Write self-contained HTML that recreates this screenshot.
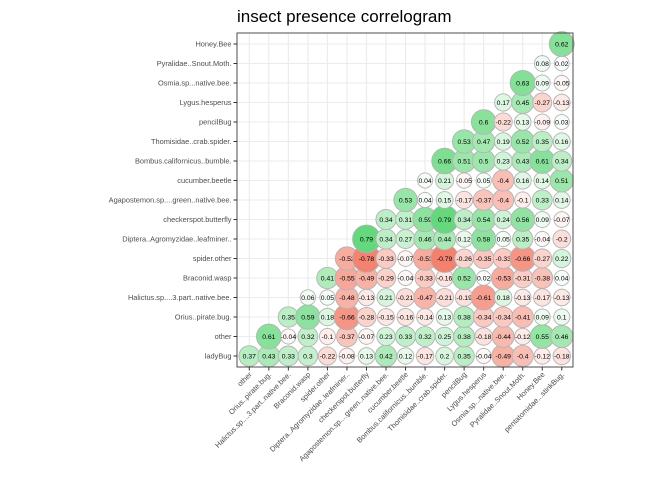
<!DOCTYPE html>
<html><head><meta charset="utf-8"><style>
body{margin:0;background:#fff;}
svg{display:block;font-family:"Liberation Sans",sans-serif;}
</style></head><body>
<svg id="chart" width="672" height="480">
<text x="237" y="22" font-size="17" fill="#000">insect presence correlogram</text>
<g id="grid"></g><g id="marks"></g><g id="axes"></g>
</svg>
<script>
const varNames = ["ladyBug","other","Orius..pirate.bug.","Halictus.sp....3.part..native.bee.","Braconid.wasp","spider.other","Diptera..Agromyzidae..leafminer..","checkerspot.butterfly","Agapostemon.sp....green..native.bee.","cucumber.beetle","Bombus.californicus..bumble.","Thomisidae..crab.spider.","pencilBug","Lygus.hesperus","Osmia.sp...native.bee.","Pyralidae..Snout.Moth.","Honey.Bee"];
const xLabels = ["other","Orius..pirate.bug.","Halictus.sp....3.part..native.bee.","Braconid.wasp","spider.other","Diptera..Agromyzidae..leafminer..","checkerspot.butterfly","Agapostemon.sp....green..native.bee.","cucumber.beetle","Bombus.californicus..bumble.","Thomisidae..crab.spider.","pencilBug","Lygus.hesperus","Osmia.sp...native.bee.","Pyralidae..Snout.Moth.","Honey.Bee","pentatomidae...stinkBug."];
const rowValues = [
[0.37,0.43,0.33,0.3,-0.22,-0.08,0.13,0.42,0.12,-0.17,0.2,0.35,-0.04,-0.49,-0.4,-0.12,-0.18],
[0.61,-0.04,0.32,-0.1,-0.37,-0.07,0.23,0.33,0.32,0.25,0.38,-0.18,-0.44,-0.12,0.55,0.46],
[0.35,0.59,0.18,-0.66,-0.28,-0.15,-0.16,-0.14,0.13,0.38,-0.34,-0.34,-0.41,0.09,0.1],
[0.06,0.05,-0.48,-0.13,0.21,-0.21,-0.47,-0.21,-0.19,-0.61,0.18,-0.13,-0.17,-0.13],
[0.41,-0.55,-0.49,-0.29,-0.04,-0.33,-0.16,0.52,0.02,-0.53,-0.31,-0.38,0.04],
[-0.52,-0.78,-0.33,-0.07,-0.53,-0.79,-0.26,-0.35,-0.33,-0.66,-0.27,0.22],
[0.79,0.34,0.27,0.46,0.44,0.12,0.58,0.05,0.35,-0.04,-0.2],
[0.34,0.31,0.59,0.79,0.34,0.54,0.24,0.56,0.09,-0.07],
[0.53,0.04,0.15,-0.17,-0.37,-0.4,-0.1,0.33,0.14],
[0.04,0.21,-0.05,0.05,-0.4,0.16,0.14,0.51],
[0.66,0.51,0.5,0.23,0.43,0.61,0.34],
[0.53,0.47,0.19,0.52,0.35,0.16],
[0.6,-0.22,0.13,-0.09,0.03],
[0.17,0.45,-0.27,-0.13],
[0.63,0.09,-0.05],
[0.08,0.02],
[0.62]
];
const NS="http://www.w3.org/2000/svg";
const L=237,R=573,T=33,B=367;
const x0=249.3,dx=19.53,y0=356,dy=19.5;
function xScale(i){return x0+i*dx;}
function yScale(j){return y0-j*dy;}
function rScale(v){return 7.2+8.5*Math.abs(v);}
function mix(a,b,t){return Math.round(a+(b-a)*t);}
function color(v){const t=Math.min(1,Math.abs(v));const c=v>=0?[60,205,90]:[240,95,72];
return `rgb(${mix(255,c[0],t)},${mix(255,c[1],t)},${mix(255,c[2],t)})`;}
function mk(tag,attrs,parent){const e=document.createElementNS(NS,tag);for(const k in attrs)e.setAttribute(k,attrs[k]);parent.appendChild(e);return e;}
const grid=document.getElementById('grid'),marks=document.getElementById('marks'),axes=document.getElementById('axes');
for(let i=0;i<xLabels.length;i++){const l=mk('line',{x1:xScale(i),x2:xScale(i),y1:T,y2:B,stroke:'#ebebeb','stroke-width':1.1},grid);

}
for(let j=0;j<varNames.length;j++){const l=mk('line',{x1:L,x2:R,y1:yScale(j),y2:yScale(j),stroke:'#ebebeb','stroke-width':1.1},grid);

}
rowValues.forEach((row,j)=>{row.forEach((v,k)=>{const i=j+k;
const g=mk('g',{},marks);


mk('circle',{cx:xScale(i),cy:yScale(j),r:rScale(v),fill:color(v),stroke:'#b3b3b3','stroke-width':0.9},g);
const t=mk('text',{x:xScale(i),y:yScale(j)+2.4,'text-anchor':'middle','font-size':6.8,fill:'#000'},g);t.textContent=String(v);});});
const bd=mk('rect',{x:L,y:T,width:R-L,height:B-T,fill:'none',stroke:'#4d4d4d','stroke-width':1},axes);


varNames.forEach((n,j)=>{mk('line',{x1:L-3.5,x2:L,y1:yScale(j),y2:yScale(j),stroke:'#333'},axes);
const t=mk('text',{x:L-5.5,y:yScale(j)+2.6,'text-anchor':'end','font-size':7.4,fill:'#4d4d4d'},axes);t.textContent=n;

});
xLabels.forEach((n,i)=>{mk('line',{x1:xScale(i),x2:xScale(i),y1:B,y2:B+3.5,stroke:'#333'},axes);
const t=mk('text',{x:0,y:0,'text-anchor':'end','font-size':7.4,fill:'#4d4d4d',transform:`translate(${xScale(i)+3},${B+8}) rotate(-45)`},axes);t.textContent=n;

});
</script>
</body></html>
